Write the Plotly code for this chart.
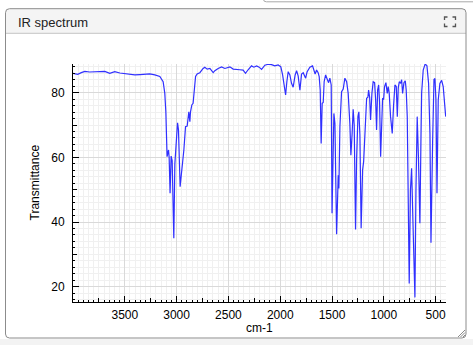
import plotly.graph_objects as go

# ---- data ----
wavenumber = [4000, 3954, 3920, 3886, 3840, 3790, 3741, 3693, 3645, 3597, 3548, 3500, 3450, 3403,
              3355, 3300, 3259, 3210, 3181, 3162, 3130, 3114, 3104, 3092, 3078, 3072, 3063, 3053,
              3043, 3034, 3027, 3017, 3001, 2991, 2982, 2976, 2966, 2953, 2943, 2930, 2914, 2898,
              2882, 2872, 2866, 2853, 2841, 2827, 2817, 2802, 2776, 2744, 2728, 2705, 2679, 2647,
              2631, 2599, 2566, 2534, 2503, 2486, 2454, 2422, 2390, 2358, 2335, 2310, 2277, 2255,
              2228, 2203, 2180, 2148, 2116, 2084, 2052, 2020, 1994, 1977, 1962, 1948, 1936, 1923,
              1907, 1891, 1875, 1856, 1842, 1827, 1810, 1794, 1778, 1755, 1740, 1714, 1688, 1672,
              1663, 1649, 1634, 1624, 1614, 1605, 1595, 1585, 1576, 1562, 1547, 1533, 1521, 1508,
              1500, 1491, 1482, 1472, 1456, 1440, 1434, 1424, 1408, 1392, 1376, 1359, 1344, 1328,
              1318, 1306, 1296, 1286, 1273, 1263, 1250, 1241, 1231, 1219, 1205, 1195, 1183, 1166,
              1154, 1147, 1137, 1128, 1115, 1103, 1089, 1079, 1070, 1060, 1050, 1041, 1031, 1022,
              1012, 1002, 993, 980, 967, 958, 948, 935, 919, 906, 893, 880, 870, 861, 851, 838,
              828, 819, 806, 793, 784, 774, 755, 743, 732, 719, 700, 690, 678, 666, 652, 642, 635,
              620, 601, 584, 568, 555, 545, 529, 516, 507, 497, 487, 475, 459, 442, 427, 410, 403]
transmittance = [86.0, 85.7, 86.2, 86.6, 86.4, 86.5, 86.4, 86.6, 86.0, 86.5, 86.1, 85.9, 85.7, 85.5,
                 85.6, 85.8, 85.8, 85.5, 85.2, 85.0, 83.4, 79.8, 74.1, 60.2, 62.3, 60.0, 48.9, 60.4,
                 59.0, 45.0, 35.0, 58.0, 67.4, 70.7, 68.5, 62.3, 50.9, 55.1, 57.6, 62.3, 69.5, 69.7,
                 74.1, 71.0, 74.1, 76.2, 76.7, 81.9, 85.0, 85.8, 86.2, 87.5, 87.9, 87.3, 87.5, 86.2,
                 86.8, 87.5, 88.0, 87.5, 87.9, 88.0, 87.3, 87.1, 87.1, 87.0, 86.0, 87.1, 88.3, 87.9,
                 88.3, 87.9, 87.2, 88.5, 88.8, 88.7, 88.3, 88.6, 88.0, 85.5, 81.9, 79.3, 83.4, 86.5,
                 85.5, 82.9, 81.7, 85.5, 86.8, 85.2, 80.8, 85.8, 86.2, 84.5, 86.5, 87.9, 88.3, 86.8,
                 85.8, 87.0, 86.2, 85.0, 80.8, 64.3, 76.7, 77.0, 83.4, 85.5, 84.1, 83.1, 84.5, 82.4,
                 42.7, 60.0, 73.6, 70.5, 36.2, 54.5, 50.4, 69.5, 80.3, 81.1, 84.5, 83.4, 79.8, 70.5,
                 60.7, 67.4, 74.9, 70.0, 37.7, 59.2, 72.6, 74.1, 67.0, 38.1, 56.1, 58.7, 67.4, 78.3,
                 78.6, 80.8, 78.6, 71.6, 79.8, 83.4, 83.1, 77.7, 68.5, 80.8, 82.4, 77.0, 60.2, 71.6,
                 78.3, 77.9, 81.9, 83.1, 79.8, 81.9, 79.8, 72.6, 67.4, 76.0, 82.4, 81.9, 72.6, 81.4,
                 83.4, 82.9, 84.0, 79.8, 83.1, 83.7, 80.8, 72.6, 21.0, 50.0, 56.6, 40.0, 16.7, 50.0,
                 72.6, 60.0, 39.6, 65.0, 80.0, 87.0, 88.9, 88.3, 82.9, 67.4, 33.6, 65.0, 84.1, 84.4,
                 78.0, 48.9, 77.7, 82.9, 83.8, 81.9, 76.0, 72.6]

x_range = [4000, 400]
y_range = [15.27, 88.88]
x_tick_vals = [3500, 3000, 2500, 2000, 1500, 1000, 500]
y_tick_vals = [20, 40, 60, 80]

W, H = 473, 345
ML, MR, MT, MB = 73, 27, 64, 43
PW, PH = W - ML - MR, H - MT - MB


def fx(x):
    return (x - ML) / PW


def fy(y):
    return (H - MB - y) / PH


FONT = "Liberation Sans, Arial, Helvetica, sans-serif"

fig = go.Figure()
fig.add_trace(go.Scatter(x=wavenumber, y=transmittance, mode="lines",
                         line=dict(color="rgb(48,48,255)", width=1.2),
                         showlegend=False, hoverinfo="x+y"))
# invisible copy to carry the medium-tick overlay axes
fig.add_trace(go.Scatter(x=wavenumber, y=transmittance, mode="lines", xaxis="x2", yaxis="y2",
                         line=dict(color="rgba(0,0,0,0)", width=0), showlegend=False,
                         hoverinfo="skip"))

axis_common = dict(showline=True, linecolor="black", linewidth=1, ticks="inside",
                   tickcolor="black", tickwidth=1, zeroline=False,
                   tickfont=dict(family=FONT, size=12, color="black"))

fig.update_layout(
    width=W, height=H,
    margin=dict(l=ML, r=MR, t=MT, b=MB),
    paper_bgcolor="white", plot_bgcolor="white",
    xaxis=dict(range=x_range, tickvals=x_tick_vals, ticklen=6,
               showgrid=True, gridcolor="#d9d9d9", gridwidth=1,
               minor=dict(dtick=50, tick0=0, ticks="inside", ticklen=2, tickcolor="black",
                          showgrid=True, gridcolor="#f0f0f0", gridwidth=1),
               ticklabelstandoff=2, **axis_common),
    yaxis=dict(range=y_range, tickvals=y_tick_vals, ticklen=6,
               showgrid=True, gridcolor="#d9d9d9", gridwidth=1,
               minor=dict(dtick=2, tick0=0, ticks="inside", ticklen=2, tickcolor="black",
                          showgrid=True, gridcolor="#f0f0f0", gridwidth=1),
               ticklabelstandoff=5, **axis_common),
    xaxis2=dict(range=x_range, overlaying="x", anchor="y", side="bottom", dtick=250, tick0=0,
                ticks="inside", ticklen=4, tickcolor="black", showticklabels=False,
                showgrid=False, zeroline=False, showline=False),
    yaxis2=dict(range=y_range, overlaying="y", anchor="x", side="left", dtick=10, tick0=0,
                ticks="inside", ticklen=4, tickcolor="black", showticklabels=False,
                showgrid=False, zeroline=False, showline=False),
    hovermode=False,
)

# axis titles
fig.add_annotation(text="cm-1", xref="paper", yref="paper", x=fx(259), y=fy(327.5),
                   xanchor="center", yanchor="middle", showarrow=False,
                   font=dict(family=FONT, size=12, color="black"))
fig.add_annotation(text="Transmittance", xref="paper", yref="paper", x=fx(34.5), y=fy(183),
                   xanchor="center", yanchor="middle", textangle=-90, showarrow=False,
                   font=dict(family=FONT, size=12, color="black"))

# ---- card decoration ----
shapes = []
cx0, cx1, cy0, cy1, r = 5.5, 466, 8.7, 338, 4
hy = 33.3
# header fill
shapes.append(dict(type="path", xref="paper", yref="paper",
                   path=(f"M {fx(cx0)} {fy(hy)} L {fx(cx0)} {fy(cy0 + r)} "
                         f"Q {fx(cx0)} {fy(cy0)} {fx(cx0 + r)} {fy(cy0)} "
                         f"L {fx(cx1 - r)} {fy(cy0)} Q {fx(cx1)} {fy(cy0)} {fx(cx1)} {fy(cy0 + r)} "
                         f"L {fx(cx1)} {fy(hy)} Z"),
                   fillcolor="#f4f4f4", line=dict(width=0), layer="below"))
# header bottom line
shapes.append(dict(type="line", xref="paper", yref="paper", x0=fx(cx0), x1=fx(cx1),
                   y0=fy(hy), y1=fy(hy), line=dict(color="#c4c4c4", width=1)))
# card border
shapes.append(dict(type="path", xref="paper", yref="paper",
                   path=(f"M {fx(cx0 + r)} {fy(cy0)} L {fx(cx1 - r)} {fy(cy0)} "
                         f"Q {fx(cx1)} {fy(cy0)} {fx(cx1)} {fy(cy0 + r)} "
                         f"L {fx(cx1)} {fy(cy1 - r)} Q {fx(cx1)} {fy(cy1)} {fx(cx1 - r)} {fy(cy1)} "
                         f"L {fx(cx0 + r)} {fy(cy1)} Q {fx(cx0)} {fy(cy1)} {fx(cx0)} {fy(cy1 - r)} "
                         f"L {fx(cx0)} {fy(cy0 + r)} Q {fx(cx0)} {fy(cy0)} {fx(cx0 + r)} {fy(cy0)} Z"),
                   line=dict(color="#8c8c8c", width=1), fillcolor="rgba(0,0,0,0)"))
# light area below card
shapes.append(dict(type="rect", xref="paper", yref="paper", x0=fx(0), x1=fx(W),
                   y0=fy(H), y1=fy(cy1 + 1), fillcolor="#f3f3f3", line=dict(width=0),
                   layer="below"))
# element above card (bottom edge)
shapes.append(dict(type="path", xref="paper", yref="paper",
                   path=(f"M {fx(263.5)} {fy(-2)} L {fx(263.5)} {fy(-0.5)} "
                         f"Q {fx(263.5)} {fy(1.8)} {fx(266.5)} {fy(1.8)} L {fx(W + 2)} {fy(1.8)}"),
                   line=dict(color="#a8a8a8", width=1)))
# expand icon brackets
ix0, ix1, iy0, iy1, a = 444.5, 455.5, 17, 26.5, 3
icon_paths = [
    f"M {fx(ix0)} {fy(iy0 + a)} L {fx(ix0)} {fy(iy0)} L {fx(ix0 + a)} {fy(iy0)}",
    f"M {fx(ix1 - a)} {fy(iy0)} L {fx(ix1)} {fy(iy0)} L {fx(ix1)} {fy(iy0 + a)}",
    f"M {fx(ix0)} {fy(iy1 - a)} L {fx(ix0)} {fy(iy1)} L {fx(ix0 + a)} {fy(iy1)}",
    f"M {fx(ix1 - a)} {fy(iy1)} L {fx(ix1)} {fy(iy1)} L {fx(ix1)} {fy(iy1 - a)}",
]
for p in icon_paths:
    shapes.append(dict(type="path", xref="paper", yref="paper", path=p,
                       line=dict(color="#555555", width=1.3)))
# resize grip
for d in (2, 4.5, 7):
    shapes.append(dict(type="line", xref="paper", yref="paper",
                       x0=fx(cx1 - 1 - d), y0=fy(cy1 - 1), x1=fx(cx1 - 1), y1=fy(cy1 - 1 - d),
                       line=dict(color="#8a8a8a", width=1)))
fig.update_layout(shapes=shapes)

fig.add_annotation(text="IR spectrum", xref="paper", yref="paper", x=fx(16.3), y=fy(22.5),
                   xanchor="left", yanchor="middle", showarrow=False,
                   font=dict(family=FONT, size=13, color="#222222"))

fig.write_html("out.html")
